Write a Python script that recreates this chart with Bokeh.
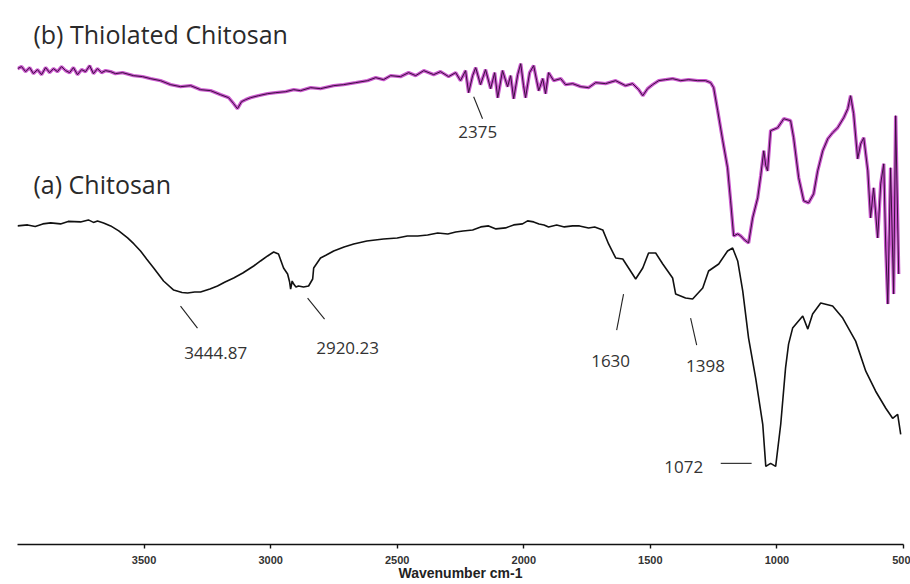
from bokeh.plotting import figure
from bokeh.models import Range1d, FixedTicker, Label
from bokeh.embed import file_html
from bokeh.resources import INLINE

# ---------------- data ----------------
# (a) Chitosan : wavenumber (cm-1) and transmittance (a.u.)
chitosan_wn = [4000, 3960, 3930, 3900, 3869, 3830, 3800, 3751, 3720, 3700, 3684, 3660,
               3632, 3600, 3565, 3540, 3514, 3490, 3462, 3423, 3383, 3350, 3328, 3300,
               3277, 3240, 3210, 3180, 3146, 3110, 3067, 3040, 3012, 2988, 2969, 2949,
               2933, 2925, 2921, 2915, 2909, 2900, 2890, 2870, 2850, 2834, 2830, 2803,
               2780, 2751, 2710, 2672, 2620, 2554, 2500, 2460, 2419, 2380, 2340, 2300,
               2269, 2240, 2202, 2170, 2139, 2110, 2072, 2040, 2005, 1985, 1961, 1940,
               1920, 1902, 1870, 1840, 1807, 1780, 1744, 1720, 1688, 1665, 1637, 1609,
               1586, 1558, 1530, 1507, 1479, 1451, 1412, 1400, 1361, 1333, 1293, 1270,
               1230, 1195, 1175, 1155, 1135, 1112, 1084, 1056, 1044, 1025, 1005, 985,
               966, 954, 938, 898, 878, 859, 827, 780, 740, 689, 649, 610, 570, 543,
               523, 511]
chitosan_t = [63.6, 63.8, 63.5, 64.0, 64.2, 64.0, 64.5, 64.4, 64.8, 64.3, 64.6, 64.2,
              63.6, 62.6, 61.2, 60.0, 58.6, 57.0, 55.2, 52.6, 50.8, 50.3, 50.2, 50.4,
              50.4, 51.0, 51.6, 52.4, 53.2, 54.2, 55.6, 56.6, 57.6, 58.4, 58.0, 55.2,
              54.0, 52.4, 51.0, 52.6, 52.0, 51.4, 51.6, 51.4, 51.6, 53.0, 55.2, 57.2,
              57.8, 58.6, 59.4, 60.0, 60.6, 61.0, 61.2, 61.6, 61.6, 61.8, 62.2, 62.0,
              62.4, 62.6, 62.8, 63.4, 63.6, 63.0, 63.2, 63.8, 64.0, 64.6, 64.4, 64.0,
              63.8, 63.4, 63.8, 63.4, 63.6, 63.6, 63.2, 63.4, 62.8, 60.0, 57.2, 57.0,
              55.2, 53.0, 55.2, 58.2, 58.2, 56.0, 53.2, 50.0, 49.2, 49.0, 51.2, 54.6,
              56.0, 58.6, 59.2, 56.6, 50.6, 41.2, 33.2, 24.0, 15.6, 16.2, 15.6, 24.0,
              35.2, 40.0, 43.2, 45.6, 43.0, 46.0, 48.2, 47.6, 45.2, 40.6, 34.6, 30.6,
              27.2, 25.2, 26.0, 22.0]

# (b) Thiolated Chitosan
thiol_wn = [4000, 3984, 3968, 3952, 3937, 3921, 3905, 3889, 3873, 3858, 3842, 3826,
            3810, 3794, 3779, 3763, 3747, 3731, 3715, 3700, 3684, 3668, 3652, 3632,
            3613, 3585, 3542, 3506, 3474, 3435, 3395, 3356, 3316, 3277, 3237, 3198,
            3166, 3146, 3131, 3115, 3099, 3079, 3048, 3012, 2980, 2941, 2909, 2882,
            2842, 2803, 2751, 2712, 2664, 2617, 2585, 2554, 2526, 2487, 2455, 2427,
            2395, 2356, 2329, 2297, 2269, 2250, 2230, 2218, 2202, 2190, 2171, 2151,
            2131, 2115, 2103, 2084, 2064, 2052, 2040, 2024, 2012, 2001, 1993, 1977,
            1961, 1949, 1941, 1925, 1914, 1902, 1882, 1854, 1835, 1807, 1775, 1744,
            1716, 1677, 1637, 1598, 1570, 1546, 1530, 1511, 1491, 1467, 1440, 1412,
            1380, 1349, 1313, 1282, 1262, 1250, 1234, 1214, 1195, 1183, 1171, 1155,
            1143, 1128, 1112, 1096, 1076, 1064, 1052, 1044, 1037, 1025, 997, 973,
            946, 934, 914, 894, 875, 855, 839, 819, 799, 780, 760, 736, 720, 709,
            697, 681, 669, 657, 641, 630, 618, 602, 590, 578, 570, 562, 551, 539,
            531, 519]
thiol_t = [95.0, 95.4, 94.4, 95.2, 94.0, 94.8, 93.8, 95.2, 94.2, 95.0, 94.4, 95.4,
           94.6, 94.2, 95.2, 93.8, 94.8, 94.4, 95.6, 94.0, 95.0, 94.2, 94.6, 94.4,
           94.0, 94.2, 93.6, 93.4, 93.0, 92.6, 91.8, 91.4, 91.6, 90.8, 90.6, 89.8,
           89.2, 88.0, 87.0, 88.4, 88.8, 89.2, 89.6, 90.0, 90.2, 90.4, 90.8, 90.6,
           91.2, 91.0, 91.6, 91.8, 92.2, 92.6, 93.2, 92.8, 93.6, 93.4, 94.2, 93.6,
           94.6, 93.8, 94.4, 93.4, 94.2, 92.6, 94.6, 90.2, 93.6, 95.2, 91.8, 94.8,
           91.0, 94.2, 89.2, 94.6, 91.4, 93.6, 89.0, 93.8, 96.0, 91.6, 89.2, 94.2,
           95.6, 92.6, 90.6, 93.0, 90.0, 94.2, 92.6, 93.0, 91.8, 92.0, 91.4, 91.2,
           92.2, 92.0, 92.6, 91.6, 92.0, 90.8, 89.6, 91.0, 91.8, 92.6, 92.8, 93.0,
           92.6, 92.8, 92.6, 92.6, 92.2, 91.2, 86.6, 80.6, 75.2, 68.6, 61.6, 62.0,
           61.6, 60.8, 60.2, 65.2, 69.2, 73.6, 78.6, 75.6, 74.6, 82.6, 83.2, 85.0,
           84.6, 81.2, 73.2, 68.6, 68.2, 70.0, 74.6, 78.6, 81.0, 82.2, 83.2, 85.2,
           87.0, 89.6, 86.0, 77.0, 80.0, 81.2, 74.6, 65.2, 71.2, 61.2, 72.0, 76.0,
           59.2, 48.0, 75.2, 50.0, 85.6, 54.0]

x_ticks = [3500, 3000, 2500, 2000, 1500, 1000, 500]
series_titles = ["(b) Thiolated Chitosan", "(a) Chitosan"]
peak_texts = ["2375", "3444.87", "2920.23", "1630", "1398", "1072"]

# ---------------- figure ----------------
p = figure(width=910, height=584, output_backend="svg", toolbar_location=None,
           x_range=Range1d(4000, 500), y_range=Range1d(0, 108.6),
           min_border_left=17, min_border_right=7, min_border_top=0,
           min_border_bottom=40, background_fill_color="white",
           border_fill_color="white")
p.outline_line_color = None
p.xgrid.visible = False
p.ygrid.visible = False
p.yaxis.visible = False

ax = p.xaxis[0]
ax.ticker = FixedTicker(ticks=x_ticks)
ax.minor_tick_line_color = None
ax.major_tick_in = 0
ax.major_tick_out = 4
ax.axis_line_width = 1.6
ax.axis_line_color = "#111111"
ax.major_tick_line_color = "#111111"
ax.major_tick_line_width = 1.4
ax.major_label_text_font = "Liberation Sans"
ax.major_label_text_font_size = "11px"
ax.major_label_text_font_style = "bold"
ax.major_label_text_color = "#333333"
ax.major_label_standoff = 7
ax.axis_label = "Wavenumber cm-1"
ax.axis_label_text_font = "Liberation Sans"
ax.axis_label_text_font_size = "14px"
ax.axis_label_text_font_style = "bold"
ax.axis_label_text_color = "#222222"
ax.axis_label_standoff = -2

# spectra
p.line(thiol_wn, thiol_t, line_color="#c23cc6", line_width=3.4, line_alpha=0.85)
p.line(thiol_wn, thiol_t, line_color="#3a0f3e", line_width=1.0)
p.line(chitosan_wn, chitosan_t, line_color="#111111", line_width=1.6)

# titles
title_font = "Open Sans"
p.add_layout(Label(x=3937, y=102, text=series_titles[0], text_font=title_font,
                   text_font_size="25px", text_color="#2a2a2a",
                   text_align="left", text_baseline="middle"))
p.add_layout(Label(x=3937, y=72, text=series_titles[1], text_font=title_font,
                   text_font_size="25px", text_color="#2a2a2a",
                   text_align="left", text_baseline="middle"))

# peak annotations
ann_pos = [(2182, 82.4), (3217, 38.2), (2696, 39.2), (1657, 36.6), (1282, 35.6), (1368, 15.4)]
for (lx, ly), t in zip(ann_pos, peak_texts):
    p.add_layout(Label(x=lx, y=ly, text=t, text_font=title_font, text_font_size="17px",
                       text_color="#333333", text_align="center", text_baseline="middle"))

lead_x0 = [2198, 3356, 2854, 1606, 1341, 1222]
lead_y0 = [89.4, 47.6, 49.2, 50.0, 45.2, 16.2]
lead_x1 = [2163, 3289, 2787, 1633, 1317, 1100]
lead_y1 = [85.0, 43.2, 45.0, 42.8, 39.8, 16.2]
p.segment(lead_x0, lead_y0, lead_x1, lead_y1, line_color="#222222", line_width=1.1)

open("out.html", "w").write(file_html(p, INLINE))
